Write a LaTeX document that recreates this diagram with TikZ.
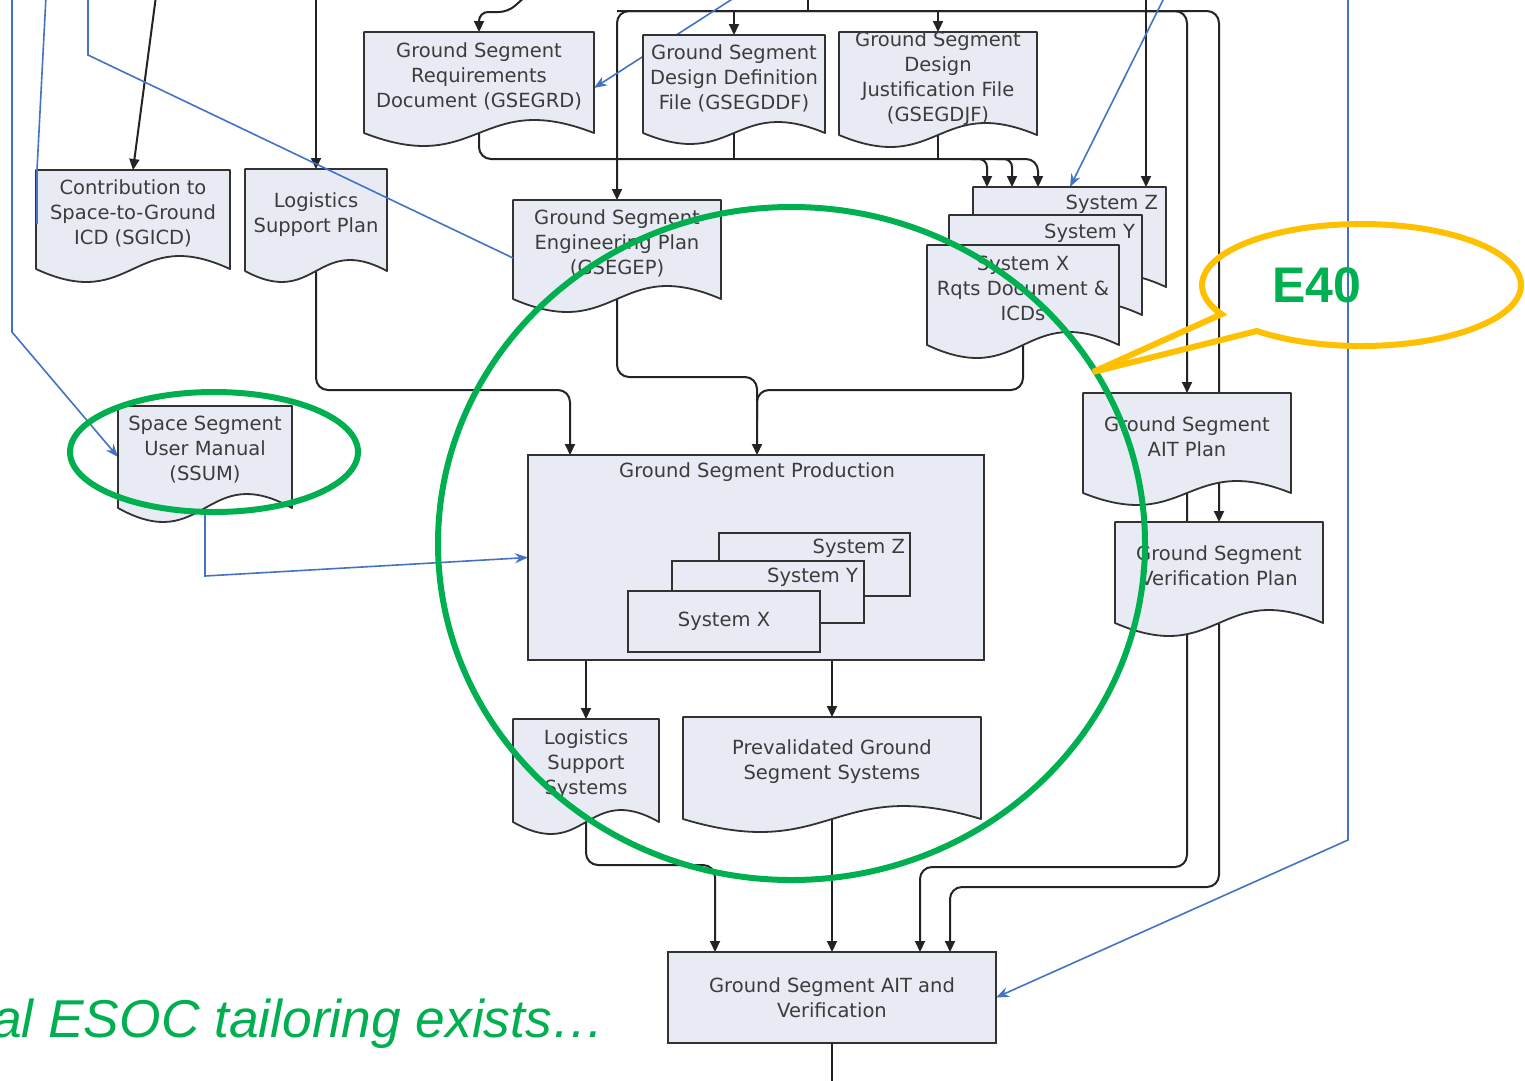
\documentclass[tikz,border=0pt]{standalone}
\usepackage{fontspec}
\setmainfont{DejaVu Sans}
\newfontfamily\arialfont{Liberation Sans}
\usetikzlibrary{arrows.meta,calc}
\definecolor{docfill}{RGB}{232,235,243}
\definecolor{docline}{RGB}{50,50,50}
\definecolor{textgray}{RGB}{60,60,60}
\definecolor{linegray}{RGB}{35,35,35}
\definecolor{bluec}{RGB}{68,114,196}
\definecolor{greenc}{RGB}{0,176,80}
\definecolor{yellowc}{RGB}{255,192,0}
\pgfdeclarelayer{conn}
\pgfdeclarelayer{shape}
\pgfdeclarelayer{top}
\pgfsetlayers{conn,shape,main,top}
\tikzset{
  doctext/.style={font=\fontsize{19.5}{25}\selectfont, text=textgray, align=center, inner sep=0pt, outer sep=0pt},
  docshape/.style={draw=docline, fill=docfill, line width=1.8pt, line join=round},
  boxst/.style={doctext, draw=docline, fill=docfill, line width=1.8pt},
  conn/.style={draw=linegray, line width=2pt, rounded corners=12pt},
  arr/.style={conn, -{Triangle[length=11pt,width=10pt]}},
  bline/.style={draw=bluec, line width=1.6pt},
  barr/.style={bline, -{Stealth[length=13pt,width=10pt]}},
  ring/.style={line width=6pt}
}
% #1 name, #2 x1, #3 top, #4 x2, #5 edge bottom, #6 wave amplitude, #7 text
\newcommand\docnode[7]{%
  \pgfmathsetmacro\dcW{#4-#2}%
  \pgfmathsetmacro\dcH{#5-#6-#3}%
  \pgfmathsetmacro\dcM{(#2+#4)/2}%
  \pgfmathsetmacro\dcLo{#5+3.46*#6}%
  \pgfmathsetmacro\dcHi{#5-3.46*#6}%
  \node[doctext, minimum width=\dcW pt, minimum height=\dcH pt, anchor=north west] (#1) at (#2,#3) {#7};%
  \begin{pgfonlayer}{shape}%
  \path[docshape] (#2,#3) -- (#4,#3) -- (#4,#5) .. controls (\dcM,\dcHi) and (\dcM,\dcLo) .. (#2,#5) -- cycle;%
  \end{pgfonlayer}%
}
\begin{document}
\begin{tikzpicture}[x=1pt,y=-1pt]
\path[use as bounding box] (0,0) rectangle (1525,1080);
\begin{pgfonlayer}{conn}
\fill[white] (-20,-20) rectangle (1545,1100);
\end{pgfonlayer}

% ---------- document nodes ----------
\docnode{sgicd}{36}{170}{230}{269}{13}{Contribution to\\Space-to-Ground\\ICD (SGICD)}
\docnode{lsp}{245}{169}{387}{271}{11}{Logistics\\Support Plan}
\docnode{gsegrd}{364}{32}{594}{133}{13}{Ground Segment\\Requirements\\Document (GSEGRD)}
\docnode{gsegddf}{643}{35}{825}{133}{11}{Ground Segment\\Design Definition\\File (GSEGDDF)}
\docnode{gsegdjf}{839}{32}{1037}{135}{12}{Ground Segment\\Design\\Justification File\\(GSEGDJF)}
\docnode{gsegep}{513}{200}{721}{299}{13}{Ground Segment\\Engineering Plan\\(GSEGEP)}
\docnode{sysz}{973}{187}{1166}{287}{13}{}
\node[doctext, anchor=east] (syszl) at (1158,204) {System Z};
\docnode{sysy}{949}{215}{1142}{315}{13}{}
\node[doctext, anchor=east] (sysyl) at (1135,233) {System Y};
\docnode{sysx}{927}{245}{1119}{345}{13}{System X\\Rqts Document \&\\ICDs}
\docnode{ssum}{118}{406}{292}{508}{14}{Space Segment\\User Manual\\(SSUM)}
\docnode{aitp}{1083}{393}{1291}{493}{12}{Ground Segment\\AIT Plan}
\docnode{vp}{1115}{522}{1323}{623}{13}{Ground Segment\\Verification Plan}
\docnode{lss}{513}{719}{659}{822}{12}{Logistics\\Support\\Systems}
\docnode{pgss}{683}{717}{981}{819}{13}{Prevalidated Ground\\Segment Systems}

% ---------- production box ----------
\node[boxst, minimum width=456pt, minimum height=205pt, anchor=north west] (gsp) at (528,455) {};
\node[doctext] (gsptitle) at (757,472) {Ground Segment Production};
\node[boxst, minimum width=191pt, minimum height=63pt, anchor=north west] (gspz) at (719,533) {};
\node[doctext, anchor=east] (gspzl) at (905,548) {System Z};
\node[boxst, minimum width=192pt, minimum height=62pt, anchor=north west] (gspy) at (672,561) {};
\node[doctext, anchor=east] (gspyl) at (858,577) {System Y};
\node[boxst, minimum width=192pt, minimum height=61pt, anchor=north west] (gspx) at (628,591) {System X};

\node[boxst, minimum width=328pt, minimum height=91pt, anchor=north west] (aitv) at (668,952) {Ground Segment AIT and\\Verification};

% ---------- connectors ----------
\begin{pgfonlayer}{conn}
\coordinate (topy) at (0,11);
\coordinate (topedge) at (0,-4);
\coordinate (tl) at (gsegep.north |- topy);
\coordinate (tr1) at (aitp.north |- topy);
\coordinate (tr2) at (vp.north |- topy);
\draw[arr] (tr1) -- (tl) -- (gsegep.north);
\draw[arr] (tl) -- (tr2) -- (vp.north);
\draw[arr] ($(tr1)+(-40,0)$) -- (tr1) -- (aitp.north);
\draw[arr] (gsegddf.north |- topy) -- (gsegddf.north);
\draw[arr] (gsegdjf.north |- topy) -- (gsegdjf.north);
\coordinate (t808) at (808,-4);
\draw[conn] (t808) -- (t808 |- topy);
\coordinate (tsg) at (156,-4);
\draw[arr] (tsg) -- (sgicd.north);
\draw[arr] (lsp.north |- topedge) -- (lsp.north);
\coordinate (tz) at (1146,-4);
\draw[arr] (tz) -- (tz |- sysz.north);
\coordinate (trd0) at (526,-4);
\coordinate (trd1) at (508,12);
\draw[arr, rounded corners=9pt] (trd0) -- (trd1) -| (gsegrd.north);

\coordinate (busy) at (0,159);
\coordinate (z1) at ($(sysz.north west)+(14,0)$);
\coordinate (z2) at ($(sysz.north west)+(39,0)$);
\coordinate (z3) at ($(sysz.north west)+(65,0)$);
\draw[arr] (gsegrd.center) |- (z3 |- busy) -- (z3);
\draw[arr, rounded corners=8pt] ($(z1 |- busy)+(-16,0)$) -| (z1);
\draw[arr, rounded corners=8pt] ($(z2 |- busy)+(-16,0)$) -| (z2);
\draw[conn] (gsegddf.center) -- (gsegddf.center |- busy);
\draw[conn] (gsegdjf.center) -- (gsegdjf.center |- busy);

\coordinate (ga) at ($(gsp.north west)+(42,0)$);
\coordinate (gb) at ($(gsp.north west)+(229,0)$);
\coordinate (y377) at (0,377);
\coordinate (y390) at (0,390);
\draw[arr] (lsp.center) |- (ga |- y390) -- (ga);
\draw[arr] (gsegep.center) |- (gb |- y377) -- (gb);
\draw[conn] (sysx.center) |- (gb |- y390) -- ($(gb |- y390)+(0,30)$);

\draw[arr] (lss.north |- gsp.south) -- (lss.north);
\draw[arr] (pgss.north |- gsp.south) -- (pgss.north);
\draw[arr] (pgss.center) -- (pgss.center |- aitv.north);
\coordinate (aa) at ($(aitv.north west)+(47,0)$);
\coordinate (ac) at ($(aitv.north west)+(252,0)$);
\coordinate (ad) at ($(aitv.north west)+(282,0)$);
\coordinate (y865) at (0,865);
\coordinate (y867) at (0,867);
\coordinate (y887) at (0,887);
\draw[arr] (lss.center) |- (aa |- y865) -- (aa);
\draw[arr] (aitp.center) |- (ac |- y867) -- (ac);
\draw[arr] (vp.center) |- (ad |- y887) -- (ad);
\coordinate (botedge) at (0,1090);
\draw[conn] (aitv.south) -- (aitv.south |- botedge);

% blue connectors behind boxes
\coordinate (b1a) at (12,-4);
\coordinate (b1b) at (12,332);
\draw[barr] (b1a) -- (b1b) -- ($(ssum.west)+(0,7)$);
\coordinate (b2a) at (737,-4);
\draw[barr] (b2a) -- ($(gsegrd.east)+(0,12)$);
\coordinate (b3a) at (1165,-4);
\draw[barr] (b3a) -- ($(sysz.north west)+(97,0)$);
\coordinate (b4a) at (1348,-4);
\coordinate (b4b) at (1348,840);
\draw[barr] (b4a) -- (b4b) -- (aitv.east);
\coordinate (y576) at (0,576);
\draw[barr] (ssum.center) -- (ssum.center |- y576) -- (gsp.west);
\end{pgfonlayer}

% ---------- top layer: blue over boxes, annotations ----------
\begin{pgfonlayer}{top}
\coordinate (b6a) at (46,-4);
\coordinate (b6b) at (37,170);
\draw[bline] (b6a) -- (b6b) -- ($(sgicd.north west)+(1,54)$);
\coordinate (b7a) at (88,-4);
\coordinate (b7b) at (88,55);
\draw[bline] (b7a) -- (b7b) -- ($(gsegep.west)+(0,15)$);

\draw[greenc, ring] (214,452) ellipse [x radius=144pt, y radius=60pt];
\draw[greenc, ring] (791.5,543.5) ellipse [x radius=353.5pt, y radius=336.5pt];
\coordinate (e40c) at (1361.5,285);
\coordinate (e40tip) at (1093,372);
\draw[yellowc, ring, line join=miter] ($(e40c)+(229:159.5pt and 61pt)$) arc[start angle=229, end angle=568.6, x radius=159.5pt, y radius=61pt] -- (e40tip) -- cycle;
\node[font=\arialfont\bfseries\fontsize{50}{60}\selectfont, text=greenc, inner sep=0pt] (e40) at (1317,285) {E40};
\node[font=\arialfont\itshape\fontsize{53.3}{63}\selectfont, text=greenc, anchor=base west, inner sep=0pt] (tail) at (-8,1037) {al ESOC tailoring exists…};
\end{pgfonlayer}
\end{tikzpicture}
\end{document}
